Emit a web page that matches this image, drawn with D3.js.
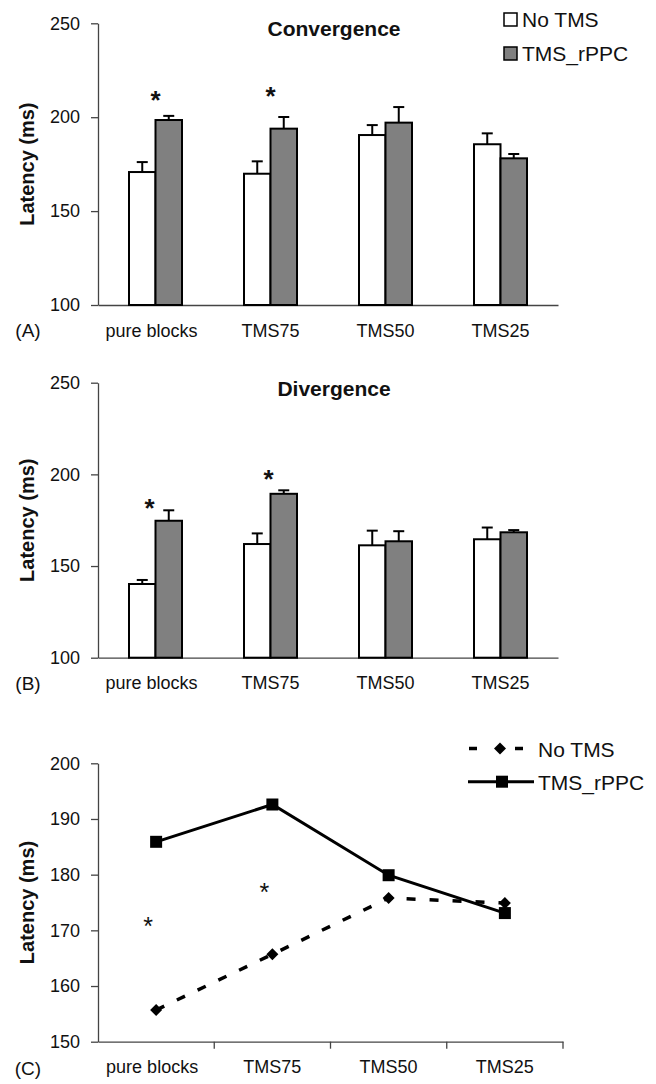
<!DOCTYPE html>
<html>
<head>
<meta charset="utf-8">
<script src="https://cdn.jsdelivr.net/npm/d3@7"></script>
<style>
  body { margin: 0; background: #fff; }
  svg { display: block; font-family: "Liberation Sans", Arial, Helvetica, sans-serif; }
</style>
</head>
<body>
<script>
var categories = ["pure blocks", "TMS75", "TMS50", "TMS25"];
var series = ["No TMS", "TMS_rPPC"];

// (A) convergence, means and upper error
var convNoTms = [170.8, 169.9, 190.5, 185.6];
var convNoTmsErr = [5.3, 6.6, 5.3, 5.8];
var convTms = [198.5, 193.9, 197.1, 178.1];
var convTmsErr = [2.2, 6.2, 8.3, 2.3];
var convStars = [212.4, 214.5];

// (B) divergence
var divNoTms = [140.2, 162.0, 161.3, 164.6];
var divNoTmsErr = [2.2, 5.8, 8.0, 6.4];
var divTms = [174.7, 189.4, 163.5, 168.4];
var divTmsErr = [5.7, 1.9, 5.5, 1.2];
var divStars = [185.2, 200.5];

// (C) average of both
var meanNoTms = [155.7, 165.7, 175.8, 174.9];
var meanTms = [185.9, 192.6, 179.9, 173.1];
var meanStars = [171.7, 177.8];

var barTicks = [100, 150, 200, 250];
var lineTicks = [150, 160, 170, 180, 190, 200];

var ink = "#111";
var axisInk = "#444";

var svg = d3.select("body").append("svg")
  .attr("width", 656)
  .attr("height", 1084);

function styleAxis(g) {
  g.attr("font-family", null).attr("font-size", 18);
  g.selectAll("path, line").attr("stroke", axisInk).attr("stroke-width", 1.3);
  g.selectAll("text").attr("fill", ink);
  // first label sits a bit left in the original
  g.selectAll(".tick text").filter(function (d) { return d === categories[0]; }).attr("dx", -4);
}

function yTitle(cy) {
  svg.append("text")
    .attr("transform", "translate(27," + cy + ") rotate(-90)")
    .attr("text-anchor", "middle")
    .attr("dy", "0.35em")
    .attr("font-size", 20)
    .attr("font-weight", "bold")
    .attr("fill", ink)
    .text("Latency (ms)");
}

function panelTag(label, y) {
  svg.append("text")
    .attr("x", 28).attr("y", y)
    .attr("text-anchor", "middle")
    .attr("font-size", 19)
    .attr("fill", ink)
    .text(label);
}

//Bar panels
function barPanel(p) {
  var x0 = d3.scaleBand().domain(categories).range([98, 558]);
  var x1 = d3.scaleBand().domain(series).range([0, 53]);
  var y = d3.scaleLinear().domain([100, 250]).range([p.bottom, p.top]);

  svg.append("g")
    .attr("transform", "translate(98,0)")
    .call(d3.axisLeft(y).tickValues(barTicks).tickSize(7).tickPadding(11).tickSizeOuter(0))
    .call(styleAxis);

  svg.append("g")
    .attr("transform", "translate(0," + p.bottom + ")")
    .call(d3.axisBottom(x0).tickSize(0).tickPadding(19).tickSizeOuter(0))
    .call(styleAxis);

  var rows = [];
  categories.forEach(function (c, i) {
    rows.push({ cat: c, s: series[0], v: p.a[i], e: p.aErr[i] });
    rows.push({ cat: c, s: series[1], v: p.b[i], e: p.bErr[i] });
  });

  function bx(d) { return x0(d.cat) + x0.bandwidth() / 2 - 26.5 + x1(d.s); }
  function cx(d) { return bx(d) + x1.bandwidth() / 2; }

  svg.append("g").selectAll("rect")
    .data(rows)
    .enter().append("rect")
    .attr("x", bx)
    .attr("y", function (d) { return y(d.v); })
    .attr("width", x1.bandwidth())
    .attr("height", function (d) { return p.bottom - y(d.v); })
    .attr("fill", function (d) { return d.s === series[0] ? "#fff" : "#808080"; })
    .attr("stroke", "#000")
    .attr("stroke-width", 2);

  var err = svg.append("g").attr("stroke", "#000").attr("stroke-width", 2);
  err.selectAll("line.v")
    .data(rows)
    .enter().append("line")
    .attr("class", "v")
    .attr("x1", cx).attr("x2", cx)
    .attr("y1", function (d) { return y(d.v); })
    .attr("y2", function (d) { return y(d.v + d.e); });
  err.selectAll("line.cap")
    .data(rows)
    .enter().append("line")
    .attr("class", "cap")
    .attr("x1", function (d) { return cx(d) - 5.5; })
    .attr("x2", function (d) { return cx(d) + 5.5; })
    .attr("y1", function (d) { return y(d.v + d.e); })
    .attr("y2", function (d) { return y(d.v + d.e); });

  svg.append("g").selectAll("text")
    .data(p.stars)
    .enter().append("text")
    .attr("x", function (d, i) { return x0(categories[i]) + x0.bandwidth() / 2 + p.starDx[i]; })
    .attr("y", function (d) { return y(d) + 15; })
    .attr("text-anchor", "middle")
    .attr("font-size", 26)
    .attr("font-weight", "bold")
    .attr("fill", ink)
    .text("*");

  svg.append("text")
    .attr("x", 334).attr("y", p.top + 13)
    .attr("text-anchor", "middle")
    .attr("font-size", 21)
    .attr("font-weight", "bold")
    .attr("fill", ink)
    .text(p.title);

  yTitle((p.top + p.bottom) / 2);
  panelTag(p.tag, p.bottom + 32);
}

barPanel({ top: 23.3, bottom: 305, title: "Convergence", tag: "(A)", starDx: [0, 0],
  a: convNoTms, aErr: convNoTmsErr, b: convTms, bErr: convTmsErr, stars: convStars });
barPanel({ top: 382.7, bottom: 657.7, title: "Divergence", tag: "(B)", starDx: [-6, -2],
  a: divNoTms, aErr: divNoTmsErr, b: divTms, bErr: divTmsErr, stars: divStars });

// legend for the bars
var legA = svg.append("g");
series.forEach(function (s, i) {
  legA.append("rect")
    .attr("x", 504).attr("y", 13 + i * 34)
    .attr("width", 13).attr("height", 13)
    .attr("fill", i === 0 ? "#fff" : "#808080")
    .attr("stroke", "#000").attr("stroke-width", 1.5);
  legA.append("text")
    .attr("x", 522).attr("y", 27 + i * 33.5)
    .attr("font-size", 21)
    .attr("fill", ink)
    .text(s);
});

//Line panel
var xC = d3.scaleBand().domain(categories).range([98, 563]);
var yC = d3.scaleLinear().domain([150, 200]).range([1041.7, 763.3]);

svg.append("g")
  .attr("transform", "translate(98,0)")
  .call(d3.axisLeft(yC).tickValues(lineTicks).tickSize(7).tickPadding(11).tickSizeOuter(0))
  .call(styleAxis);

var xAxisC = svg.append("g")
  .attr("transform", "translate(0,1041.7)")
  .call(d3.axisBottom(xC).tickSize(0).tickPadding(19).tickSizeOuter(0))
  .call(styleAxis);

xAxisC.selectAll("line.edge")
  .data(categories.slice(1).concat(["end"]))
  .enter().append("line")
  .attr("class", "edge")
  .attr("x1", function (d) { return d === "end" ? xC.range()[1] : xC(d); })
  .attr("x2", function (d) { return d === "end" ? xC.range()[1] : xC(d); })
  .attr("y1", 0).attr("y2", 7)
  .attr("stroke", axisInk).attr("stroke-width", 1.3);

function px(d, i) { return xC(categories[i]) + xC.bandwidth() / 2; }

var line = d3.line()
  .x(function (d, i) { return px(d, i); })
  .y(function (d) { return yC(d); });

svg.append("path")
  .datum(meanNoTms)
  .attr("d", line)
  .attr("fill", "none")
  .attr("stroke", "#000")
  .attr("stroke-width", 3.5)
  .attr("stroke-dasharray", "9,14");

svg.append("path")
  .datum(meanTms)
  .attr("d", line)
  .attr("fill", "none")
  .attr("stroke", "#000")
  .attr("stroke-width", 3);

var diamond = "M0,-6L6,0L0,6L-6,0Z";

svg.append("g").selectAll("path")
  .data(meanNoTms)
  .enter().append("path")
  .attr("d", diamond)
  .attr("transform", function (d, i) { return "translate(" + px(d, i) + "," + yC(d) + ")"; })
  .attr("fill", "#000");

svg.append("g").selectAll("rect")
  .data(meanTms)
  .enter().append("rect")
  .attr("x", function (d, i) { return px(d, i) - 6; })
  .attr("y", function (d) { return yC(d) - 6; })
  .attr("width", 12).attr("height", 12)
  .attr("fill", "#000");

svg.append("g").selectAll("text")
  .data(meanStars)
  .enter().append("text")
  .attr("x", function (d, i) { return px(d, i) - 8; })
  .attr("y", function (d) { return yC(d) + 14; })
  .attr("text-anchor", "middle")
  .attr("font-size", 25)
  .attr("fill", ink)
  .text("*");

yTitle((763.3 + 1041.7) / 2);
panelTag("(C)", 1075);

// legend for the lines
var legC = svg.append("g");
legC.append("line")
  .attr("x1", 469).attr("x2", 523).attr("y1", 748.5).attr("y2", 748.5)
  .attr("stroke", "#000").attr("stroke-width", 3.5)
  .attr("stroke-dasharray", "8,38");
legC.append("path")
  .attr("d", diamond)
  .attr("transform", "translate(500,748.5)")
  .attr("fill", "#000");
legC.append("line")
  .attr("x1", 468).attr("x2", 534).attr("y1", 781.7).attr("y2", 781.7)
  .attr("stroke", "#000").attr("stroke-width", 3);
legC.append("rect")
  .attr("x", 496).attr("y", 775.7)
  .attr("width", 12).attr("height", 12)
  .attr("fill", "#000");
legC.append("text")
  .attr("x", 538).attr("y", 756.5)
  .attr("font-size", 21).attr("fill", ink)
  .text(series[0]);
legC.append("text")
  .attr("x", 538).attr("y", 789.5)
  .attr("font-size", 21).attr("fill", ink)
  .text(series[1]);
</script>
</body>
</html>
